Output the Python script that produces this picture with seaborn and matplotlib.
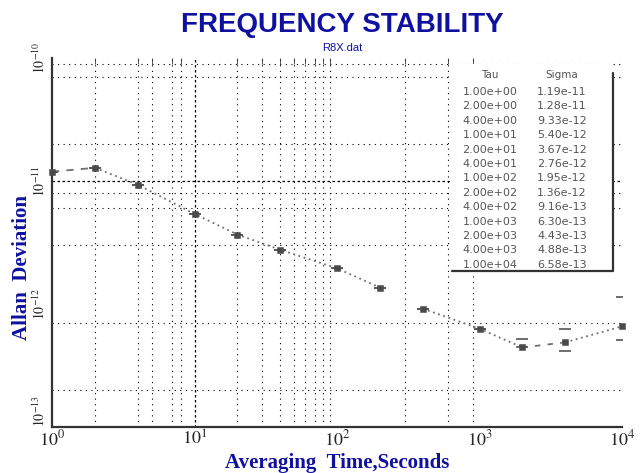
import numpy as np
import pandas as pd
import seaborn as sns
from matplotlib import pyplot as plt
from matplotlib.patches import Rectangle

# averaging times and Allan deviation
tau = [1, 2, 4, 10, 20, 40, 100, 200, 400, 1000, 2000, 4000, 10000]
sigma = [1.19e-11, 1.28e-11, 9.33e-12, 5.40e-12, 3.67e-12, 2.76e-12, 1.95e-12,
         1.36e-12, 9.16e-13, 6.30e-13, 4.43e-13, 4.88e-13, 6.58e-13]
err_lo = [0, 0, 0, 0, 0, 0, 0, 0, 0, 0, 0, 0.73e-13, 1.5e-13]
err_hi = [0, 0, 0, 0, 0, 0, 0, 0, 0, 0, 0.81e-13, 1.42e-13, 4.8e-13]

# pieces of the connecting line (start index, end index, dashes)
pieces = [(0, 1, (4, 4)), (1, 7, (1, 2)), (8, 10, (1, 2)), (10, 11, (3, 4)), (11, 12, (1, 2))]

grid_x = [2, 4, 5, 7, 8, 20, 30, 40, 50, 60, 70, 80, 90, 300, 600, 900]
grid_y = [9e-11, 7e-11, 2e-11, 8e-12, 6e-12, 3e-12, 7e-13, 2e-13]
x_ticks = [1, 10, 100, 1000, 10000]
x_labels = ['$10^0$', '$10^1$', '$10^2$', '$10^3$', '$10^4$']
y_ticks = [1e-13, 1e-12, 1e-11, 1e-10]
y_labels = ['$10^{-13}$', '$10^{-12}$', '$10^{-11}$', '$10^{-10}$']

sns.set_style('white')
plt.rcParams['font.family'] = ['Liberation Serif', 'DejaVu Serif']
plt.rcParams['mathtext.fontset'] = 'stix'

blue = '#1010a0'
fig = plt.figure(figsize=(6.43, 4.73), dpi=100)
ax = fig.add_axes([52 / 643, 1 - 427 / 473, 570 / 643, 369 / 473])
ax.set_xscale('log')
ax.set_yscale('log')
ax.set_xlim(1, 10000)
ax.set_ylim(1e-13, 1e-10)

for gx in grid_x:
    ax.axvline(gx, color='black', lw=0.8, ls=(0, (1, 4)), zorder=0)
for gy in grid_y:
    ax.axhline(gy, color='black', lw=0.8, ls=(0, (1, 4)), zorder=0)
ax.axvline(10, color='black', lw=0.9, ls=(0, (2, 2)), zorder=0)
ax.axhline(1e-11, color='black', lw=0.9, ls=(0, (2, 2)), zorder=0)

df = pd.DataFrame({'tau': tau, 'sigma': sigma})
for a, b, dash in pieces:
    sns.lineplot(data=df.iloc[a:b + 1], x='tau', y='sigma', ax=ax, color='#707070',
                 lw=1.3, dashes=False, estimator=None, sort=False, zorder=2)
    ax.lines[-1].set_dashes(dash)
ax.errorbar(tau, sigma, yerr=[err_lo, err_hi], fmt='none', ecolor='#555555',
            elinewidth=0, capsize=4, capthick=1.2, zorder=3)
sns.scatterplot(data=df, x='tau', y='sigma', ax=ax, marker='s', s=22,
                color='#4a4a4a', edgecolor='#4a4a4a', zorder=4, clip_on=False)

ax.set_xticks(x_ticks)
ax.set_xticklabels(x_labels, fontsize=13)
ax.set_xticks(grid_x, minor=True)
ax.set_xticklabels([], minor=True)
ax.set_yticks(y_ticks)
ax.set_yticklabels(y_labels, fontsize=10, rotation=90, va='center')
ax.set_yticks([], minor=True)
ax.get_yticklabels()[0].set_va('bottom')
ax.tick_params(axis='x', which='major', length=0, pad=2)
ax.tick_params(axis='x', which='minor', length=4, direction='in', top=True, color='#333333')
ax.tick_params(axis='y', which='major', length=0, pad=3)
ax.set_xlabel('')
ax.set_ylabel('')
for side in ['top', 'right']:
    ax.spines[side].set_visible(False)
for side in ['left', 'bottom']:
    ax.spines[side].set_color('#333333')
    ax.spines[side].set_linewidth(1.6)

# value table in the upper right
ax_box = fig.add_axes([0, 0, 1, 1], facecolor='none')
ax_box.set_xlim(0, 643)
ax_box.set_ylim(473, 0)
ax_box.axis('off')
ax_box.add_patch(Rectangle((452, 64), 161, 207, facecolor='white', edgecolor='none', zorder=1))
ax_box.plot([452, 613, 613], [271, 271, 73], color='#333333', lw=1.6, zorder=2)
ax_box.text(490, 75, 'Tau', ha='center', va='center', fontsize=7.5, color='#555555',
            family='DejaVu Sans', zorder=3)
ax_box.text(562, 75, 'Sigma', ha='center', va='center', fontsize=7.5, color='#555555',
            family='DejaVu Sans', zorder=3)
for i, (t, s) in enumerate(zip(tau, sigma)):
    yy = 92 + i * 14.4
    ax_box.text(490, yy, f'{t:.2e}', ha='center', va='center', fontsize=8,
                color='#555555', family='DejaVu Sans', zorder=3)
    ax_box.text(562, yy, f'{s:.2e}', ha='center', va='center', fontsize=8,
                color='#555555', family='DejaVu Sans', zorder=3)

fig.text(342 / 643, 1 - 25 / 473, 'FREQUENCY STABILITY', ha='center', va='center',
         fontsize=20, fontweight='bold', color=blue, family='Liberation Sans')
fig.text(342 / 643, 1 - 48 / 473, 'R8X.dat', ha='center', va='center',
         fontsize=8, color=blue, family='Liberation Sans')
fig.text(337 / 643, 1 - 463 / 473, 'Averaging  Time,Seconds', ha='center', va='center',
         fontsize=15, fontweight='bold', color=blue)
fig.text(22 / 643, 1 - 267 / 473, 'Allan  Deviation', ha='center', va='center',
         fontsize=15, fontweight='bold', color=blue, rotation=90)

fig.savefig('out.png', dpi=100)
